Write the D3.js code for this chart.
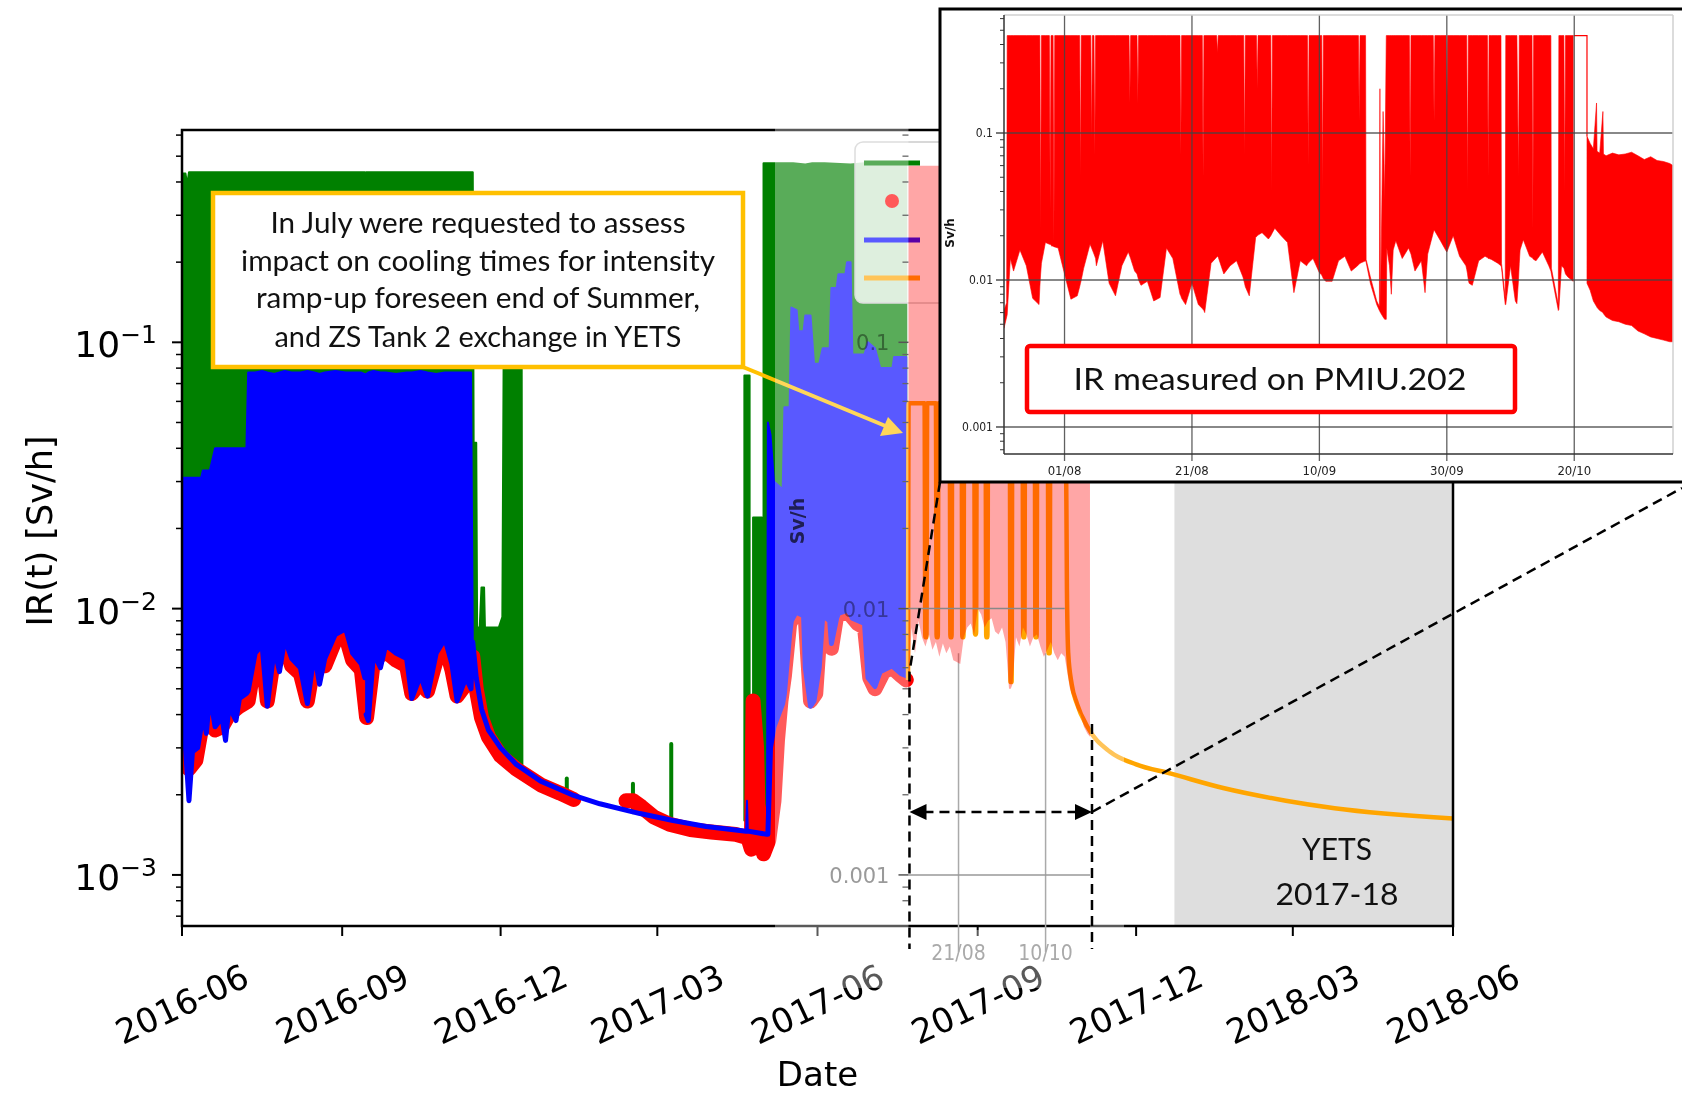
<!DOCTYPE html>
<html>
<head>
<meta charset="utf-8">
<script src="https://cdn.jsdelivr.net/npm/d3@7"></script>
<style>
  html, body { margin: 0; padding: 0; background: #fff; }
  svg { display: block; }
  .calibri { font-family: Lato, "Open Sans", sans-serif; }
  .mpl { font-family: "DejaVu Sans", sans-serif; }
  .cond { font-family: "DejaVu Sans Condensed", "DejaVu Sans", sans-serif; }
</style>
</head>
<body>
<svg id="chart" width="1682" height="1100"></svg>
<script>
// ---------------------------------------------------------------------------
// Data (dates as ISO strings, dose rates in Sv/h)
// ---------------------------------------------------------------------------

// Upper dose-rate envelope (green): [date, low, high]
const greenBand = [
  ["2016-06-01", 0.0034, 0.43], ["2016-06-03", 0.0033, 0.43], ["2016-06-04", 0.0033, 0.39],
  ["2016-06-05", 0.0032, 0.435], ["2016-06-15", 0.0040, 0.435], ["2016-06-22", 0.0040, 0.435],
  ["2016-06-30", 0.0044, 0.435], ["2016-07-08", 0.0050, 0.435], ["2016-07-14", 0.0072, 0.435],
  ["2016-07-19", 0.0068, 0.435], ["2016-07-26", 0.0076, 0.435], ["2016-08-02", 0.0072, 0.435],
  ["2016-08-09", 0.0066, 0.435], ["2016-08-17", 0.0070, 0.435], ["2016-08-24", 0.0072, 0.435],
  ["2016-08-31", 0.0085, 0.435], ["2016-09-06", 0.0074, 0.435], ["2016-09-14", 0.0066, 0.435],
  null,
  ["2016-09-14T18:00", 0.0066, 0.435], ["2016-09-22", 0.0074, 0.435], ["2016-09-30", 0.0072, 0.435],
  ["2016-10-08", 0.0068, 0.435], ["2016-10-16", 0.0062, 0.435], ["2016-10-24", 0.0072, 0.435],
  ["2016-11-01", 0.0078, 0.435], ["2016-11-09", 0.0062, 0.435], ["2016-11-15", 0.0066, 0.435],
  ["2016-11-15T12:00", 0.0066, 0.042], ["2016-11-17", 0.0055, 0.042], ["2016-11-17T12:00", 0.0054, 0.0085],
  ["2016-11-19", 0.0048, 0.0085], ["2016-11-20", 0.0046, 0.012], ["2016-11-21T12:00", 0.0043, 0.012],
  ["2016-11-22", 0.0042, 0.0085], ["2016-11-30", 0.0031, 0.0085], ["2016-12-02", 0.0029, 0.0093],
  ["2016-12-03", 0.0029, 0.2], ["2016-12-13", 0.0026, 0.2], ["2016-12-13T12:00", 0.0026, 0.0026],
  null,
  ["2017-04-20", 0.0016, 0.075], ["2017-04-23", 0.0016, 0.075],
  null,
  ["2017-04-25", 0.0015, 0.022], ["2017-04-30", 0.0014, 0.022],
  null,
  ["2017-05-01", 0.0014, 0.47], ["2017-05-10", 0.0030, 0.47], ["2017-05-14", 0.0065, 0.47],
  ["2017-05-18", 0.0098, 0.47], ["2017-05-25", 0.0096, 0.465], ["2017-05-29", 0.0048, 0.47],
  ["2017-06-02", 0.0052, 0.47], ["2017-06-05", 0.0098, 0.47], ["2017-06-20", 0.0098, 0.465],
  ["2017-06-28", 0.0094, 0.47], ["2017-07-01", 0.0056, 0.47], ["2017-07-22", 0.0060, 0.47]
];

// Isolated green readings during the shutdown: [date, low, high]
const greenSpikes = [
  ["2017-01-08", 0.00205, 0.0023],
  ["2017-02-15", 0.00172, 0.0022],
  ["2017-03-09", 0.00158, 0.0031]
];

// Lower dose-rate envelope (red markers): [date, value]
const redDots = [
  ["2016-06-02", 0.0031], ["2016-06-05", 0.0025], ["2016-06-09", 0.0027], ["2016-06-13", 0.0038],
  ["2016-06-17", 0.0045], ["2016-06-20", 0.0035], ["2016-06-24", 0.0036], ["2016-06-28", 0.0040],
  ["2016-07-04", 0.0043], ["2016-07-09", 0.0045], ["2016-07-13", 0.0064], ["2016-07-17", 0.0069],
  ["2016-07-20", 0.0045], ["2016-07-24", 0.0067], ["2016-07-30", 0.0073], ["2016-08-03", 0.0061],
  ["2016-08-08", 0.0057], ["2016-08-12", 0.0045], ["2016-08-16", 0.0064], ["2016-08-22", 0.0061],
  ["2016-08-28", 0.0076], ["2016-09-03", 0.0079], ["2016-09-07", 0.0064], ["2016-09-12", 0.0059],
  ["2016-09-15", 0.0039], ["2016-09-19", 0.0064], ["2016-09-26", 0.0069], ["2016-10-02", 0.0064],
  ["2016-10-08", 0.0061], ["2016-10-11", 0.0048], ["2016-10-16", 0.0053], ["2016-10-20", 0.0049],
  ["2016-10-25", 0.0064], ["2016-10-30", 0.0073], ["2016-11-03", 0.0059], ["2016-11-06", 0.0047],
  ["2016-11-11", 0.0052], ["2016-11-15", 0.0066], ["2016-11-17", 0.0050], ["2016-11-20", 0.0039],
  ["2016-11-24", 0.0033], ["2016-12-01", 0.0028], ["2016-12-10", 0.0025], ["2016-12-24", 0.00218],
  ["2017-01-04", 0.00203], ["2017-01-12", 0.00192],
  null,
  ["2017-02-11", 0.0019], ["2017-02-15", 0.0019], ["2017-02-20", 0.0018], ["2017-02-27", 0.00165],
  ["2017-03-08", 0.00155], ["2017-03-20", 0.00148], ["2017-04-01", 0.00145], ["2017-04-15", 0.00142],
  ["2017-04-22", 0.00138], ["2017-04-24", 0.00125], ["2017-04-25", 0.0045], ["2017-04-27", 0.0030],
  ["2017-04-28", 0.0016], ["2017-05-01", 0.0012], ["2017-05-04", 0.00135], ["2017-05-07", 0.0019],
  ["2017-05-09", 0.0032], ["2017-05-11", 0.0045], ["2017-05-13", 0.0056], ["2017-05-16", 0.0088],
  ["2017-05-20", 0.0097], ["2017-05-25", 0.0092], ["2017-05-28", 0.0045], ["2017-05-31", 0.0048],
  ["2017-06-03", 0.0094], ["2017-06-07", 0.0092], ["2017-06-09", 0.0071], ["2017-06-12", 0.0094],
  ["2017-06-18", 0.0098], ["2017-06-24", 0.0088], ["2017-06-28", 0.0085], ["2017-07-01", 0.0055],
  ["2017-07-04", 0.0050], ["2017-07-09", 0.0058], ["2017-07-14", 0.0060], ["2017-07-19", 0.0056],
  ["2017-07-22", 0.0054]
];

// Model dose rate (blue): [date, low, high]
const blueBand = [
  ["2016-06-01", 0.0032, 0.031], ["2016-06-03", 0.0030, 0.031], ["2016-06-05", 0.0019, 0.031],
  ["2016-06-07", 0.0029, 0.031], ["2016-06-10", 0.0030, 0.031], ["2016-06-12", 0.0036, 0.031],
  ["2016-06-13", 0.0041, 0.033], ["2016-06-15", 0.0034, 0.033], ["2016-06-17", 0.0048, 0.033],
  ["2016-06-20", 0.0036, 0.040], ["2016-06-24", 0.0039, 0.040], ["2016-06-26", 0.0032, 0.040],
  ["2016-06-28", 0.0043, 0.040], ["2016-07-02", 0.0038, 0.040], ["2016-07-04", 0.0046, 0.040],
  ["2016-07-08", 0.0048, 0.040], ["2016-07-09", 0.0049, 0.077], ["2016-07-13", 0.0068, 0.077],
  ["2016-07-17", 0.0073, 0.078], ["2016-07-20", 0.0043, 0.077], ["2016-07-24", 0.0071, 0.076],
  ["2016-07-27", 0.0058, 0.077], ["2016-07-30", 0.0077, 0.078], ["2016-08-03", 0.0065, 0.077],
  ["2016-08-08", 0.0060, 0.077], ["2016-08-12", 0.0044, 0.078], ["2016-08-16", 0.0068, 0.077],
  ["2016-08-19", 0.0052, 0.076], ["2016-08-22", 0.0065, 0.077], ["2016-08-28", 0.0080, 0.078],
  ["2016-09-03", 0.0084, 0.077], ["2016-09-07", 0.0068, 0.077], ["2016-09-12", 0.0062, 0.077],
  ["2016-09-14", 0.0055, 0.076],
  null,
  ["2016-09-14T18:00", 0.0040, 0.076], ["2016-09-16", 0.0038, 0.077], ["2016-09-19", 0.0068, 0.078],
  ["2016-09-23", 0.0060, 0.077], ["2016-09-26", 0.0073, 0.077], ["2016-10-02", 0.0068, 0.076],
  ["2016-10-08", 0.0065, 0.077], ["2016-10-11", 0.0046, 0.077], ["2016-10-16", 0.0056, 0.078],
  ["2016-10-20", 0.0047, 0.077], ["2016-10-25", 0.0068, 0.076], ["2016-10-30", 0.0077, 0.077],
  ["2016-11-03", 0.0062, 0.077], ["2016-11-06", 0.0045, 0.077], ["2016-11-11", 0.0055, 0.077],
  ["2016-11-14", 0.0050, 0.077], ["2016-11-15", 0.0075, 0.0075],
  ["2016-11-17", 0.0055, 0.0055], ["2016-11-20", 0.0042, 0.0042], ["2016-11-24", 0.0035, 0.0035],
  ["2016-12-01", 0.0030, 0.0030], ["2016-12-10", 0.0026, 0.0026], ["2016-12-24", 0.00225, 0.00225],
  ["2017-01-11", 0.0020, 0.0020], ["2017-01-27", 0.00185, 0.00185], ["2017-02-19", 0.0017, 0.0017],
  ["2017-03-10", 0.0016, 0.0016], ["2017-03-29", 0.00152, 0.00152], ["2017-04-21", 0.00146, 0.00146],
  ["2017-04-21T12:00", 0.00146, 0.0019], ["2017-04-22", 0.00146, 0.00146], ["2017-05-03", 0.00142, 0.00142],
  ["2017-05-03T12:00", 0.00142, 0.05], ["2017-05-05", 0.0030, 0.045], ["2017-05-07", 0.0036, 0.030],
  ["2017-05-12", 0.0044, 0.028], ["2017-05-13", 0.0048, 0.057], ["2017-05-16", 0.0080, 0.057],
  ["2017-05-17", 0.0090, 0.135], ["2017-05-20", 0.0098, 0.132], ["2017-05-21", 0.0096, 0.11],
  ["2017-05-24", 0.0094, 0.11], ["2017-05-25", 0.0060, 0.126], ["2017-05-28", 0.0043, 0.126],
  ["2017-05-30", 0.0045, 0.083], ["2017-06-02", 0.0060, 0.083], ["2017-06-04", 0.0094, 0.095],
  ["2017-06-08", 0.0090, 0.095], ["2017-06-09", 0.0074, 0.16], ["2017-06-12", 0.0092, 0.16],
  ["2017-06-13", 0.0096, 0.18], ["2017-06-17", 0.0098, 0.18], ["2017-06-18", 0.0100, 0.20],
  ["2017-06-20", 0.0095, 0.20], ["2017-06-21", 0.0092, 0.09], ["2017-06-28", 0.0088, 0.09],
  ["2017-06-30", 0.0055, 0.10], ["2017-07-04", 0.0051, 0.095], ["2017-07-07", 0.0058, 0.08],
  ["2017-07-14", 0.0061, 0.08], ["2017-07-15", 0.0060, 0.088], ["2017-07-19", 0.0057, 0.088],
  ["2017-07-22", 0.0056, 0.088]
];

// Forecast with the summer intensity ramp-up (orange): [date, value]
const forecast = [
  ["2017-07-23", 0.0054], ["2017-07-23T08:00", 0.059], ["2017-08-01T12:00", 0.059],
  ["2017-08-01T22:00", 0.0078], ["2017-08-02T14:00", 0.0078], ["2017-08-03", 0.059],
  ["2017-08-08", 0.059], ["2017-08-08T10:00", 0.0078], ["2017-08-09T02:00", 0.0078], ["2017-08-09T12:00", 0.059],
  ["2017-08-15T22:00", 0.059], ["2017-08-16T08:00", 0.0078], ["2017-08-17", 0.0078], ["2017-08-17T10:00", 0.059],
  ["2017-08-22T18:00", 0.059], ["2017-08-23T04:00", 0.0078], ["2017-08-23T20:00", 0.0078], ["2017-08-24T06:00", 0.059],
  ["2017-08-30", 0.059], ["2017-08-30T10:00", 0.0080], ["2017-08-31T02:00", 0.0080], ["2017-08-31T12:00", 0.059],
  ["2017-09-05T12:00", 0.059], ["2017-09-05T22:00", 0.0078], ["2017-09-06T14:00", 0.0078], ["2017-09-07", 0.059],
  ["2017-09-19T10:00", 0.059], ["2017-09-19T20:00", 0.0053], ["2017-09-20T12:00", 0.0053], ["2017-09-20T22:00", 0.059],
  ["2017-09-26T18:00", 0.059], ["2017-09-27T04:00", 0.0078], ["2017-09-27T20:00", 0.0078], ["2017-09-28T06:00", 0.059],
  ["2017-10-03T18:00", 0.059], ["2017-10-04T04:00", 0.0078], ["2017-10-04T20:00", 0.0078], ["2017-10-05T06:00", 0.059],
  ["2017-10-11T06:00", 0.059], ["2017-10-11T16:00", 0.0068], ["2017-10-12T08:00", 0.0068], ["2017-10-12T18:00", 0.059],
  ["2017-10-21T12:00", 0.059], ["2017-10-22T06:00", 0.012], ["2017-10-23", 0.0068], ["2017-10-25", 0.0052],
  ["2017-10-28", 0.0044], ["2017-11-03", 0.0036], ["2017-11-16", 0.0029], ["2017-12-01", 0.0026],
  ["2017-12-21", 0.0024], ["2018-01-20", 0.00212], ["2018-02-25", 0.0019], ["2018-03-25", 0.00178],
  ["2018-06-01", 0.00163]
];

// IR measured on PMIU.202, full resolution: [date, low, high]
const pmiu = [
  ["2017-07-22T12:00", 0.0047, 0.0062], ["2017-07-22T22:00", 0.0056, 0.0070], ["2017-07-23", 0.0058, 0.46],
  ["2017-07-23T12:00", 0.0140, 0.46], ["2017-07-24", 0.0115, 0.46], ["2017-07-25", 0.0160, 0.46],
  ["2017-07-26", 0.0125, 0.46], ["2017-07-27", 0.0075, 0.46], ["2017-07-28", 0.0068, 0.46],
  ["2017-07-28T03:00", 0.0090, 0.46], ["2017-07-28T06:00", 0.0110, 0.022], ["2017-07-28T09:00", 0.0130, 0.46],
  ["2017-07-29", 0.0180, 0.46],
  ["2017-07-29T15:00", 0.0175, 0.46], ["2017-07-29T18:00", 0.0175, 0.030], ["2017-07-29T21:00", 0.0172, 0.46],
  ["2017-07-30", 0.0170, 0.46],
  ["2017-07-30T05:00", 0.0170, 0.46], ["2017-07-30T08:00", 0.0168, 0.018], ["2017-07-30T11:00", 0.0168, 0.46],
  ["2017-07-31", 0.0165, 0.46], ["2017-08-01", 0.0110, 0.46], ["2017-08-02", 0.0074, 0.46],
  ["2017-08-03", 0.0078, 0.46],
  ["2017-08-03T09:00", 0.0090, 0.46], ["2017-08-03T12:00", 0.0095, 0.05], ["2017-08-03T15:00", 0.0100, 0.46],
  ["2017-08-04", 0.0120, 0.46], ["2017-08-05", 0.0175, 0.46],
  ["2017-08-05T03:00", 0.0170, 0.46], ["2017-08-05T06:00", 0.0165, 0.09], ["2017-08-05T09:00", 0.0160, 0.46],
  ["2017-08-05T15:00", 0.0150, 0.46], ["2017-08-05T18:00", 0.0145, 0.07], ["2017-08-05T21:00", 0.0140, 0.46],
  ["2017-08-06", 0.0125, 0.46], ["2017-08-07", 0.0185, 0.46], ["2017-08-08", 0.0095, 0.46],
  ["2017-08-09", 0.0078, 0.46], ["2017-08-10", 0.0125, 0.46], ["2017-08-11", 0.0155, 0.46],
  ["2017-08-11T03:00", 0.0150, 0.46], ["2017-08-11T06:00", 0.0145, 0.16], ["2017-08-11T09:00", 0.0140, 0.46],
  ["2017-08-12", 0.0115, 0.46],
  ["2017-08-12T09:00", 0.0110, 0.46], ["2017-08-12T12:00", 0.0105, 0.16], ["2017-08-12T15:00", 0.0100, 0.46],
  ["2017-08-13", 0.0092, 0.46], ["2017-08-14", 0.0098, 0.46], ["2017-08-15", 0.0072, 0.46],
  ["2017-08-16", 0.0076, 0.46], ["2017-08-17", 0.0165, 0.46], ["2017-08-18", 0.0140, 0.46],
  ["2017-08-19", 0.0085, 0.46],
  ["2017-08-19T03:00", 0.0080, 0.46], ["2017-08-19T06:00", 0.0078, 0.07], ["2017-08-19T09:00", 0.0075, 0.46],
  ["2017-08-20", 0.0068, 0.46], ["2017-08-21", 0.0095, 0.46], ["2017-08-22", 0.0068, 0.46],
  ["2017-08-22T15:00", 0.0064, 0.46], ["2017-08-22T18:00", 0.0063, 0.05], ["2017-08-22T21:00", 0.0062, 0.46],
  ["2017-08-23", 0.0060, 0.46], ["2017-08-24", 0.0130, 0.46],
  ["2017-08-24T21:00", 0.0143, 0.46], ["2017-08-25", 0.0145, 0.35], ["2017-08-25T03:00", 0.0143, 0.46],
  ["2017-08-26", 0.0110, 0.46], ["2017-08-27", 0.0125, 0.46], ["2017-08-28", 0.0135, 0.46],
  ["2017-08-29", 0.0105, 0.46],
  ["2017-08-29T03:00", 0.0100, 0.46], ["2017-08-29T06:00", 0.0095, 0.07], ["2017-08-29T09:00", 0.0090, 0.46],
  ["2017-08-30", 0.0078, 0.46], ["2017-08-31", 0.0195, 0.46],
  ["2017-08-31T03:00", 0.0197, 0.46], ["2017-08-31T06:00", 0.0200, 0.20], ["2017-08-31T09:00", 0.0202, 0.46],
  ["2017-09-01", 0.0210, 0.46], ["2017-09-02", 0.0190, 0.46],
  ["2017-09-02T09:00", 0.0200, 0.46], ["2017-09-02T12:00", 0.0205, 0.04], ["2017-09-02T15:00", 0.0210, 0.46],
  ["2017-09-03", 0.0225, 0.46], ["2017-09-04", 0.0200, 0.46], ["2017-09-05", 0.0180, 0.46],
  ["2017-09-06", 0.0082, 0.46], ["2017-09-07", 0.0135, 0.46], ["2017-09-08", 0.0125, 0.46],
  ["2017-09-08T03:00", 0.0128, 0.46], ["2017-09-08T06:00", 0.0130, 0.06], ["2017-09-08T09:00", 0.0132, 0.46],
  ["2017-09-09", 0.0140, 0.46], ["2017-09-10", 0.0112, 0.46],
  ["2017-09-10T09:00", 0.0108, 0.46], ["2017-09-10T12:00", 0.0105, 0.04], ["2017-09-10T15:00", 0.0102, 0.46],
  ["2017-09-11", 0.0098, 0.46], ["2017-09-12", 0.0098, 0.46], ["2017-09-13", 0.0135, 0.46],
  ["2017-09-14", 0.0145, 0.46], ["2017-09-15", 0.0115, 0.46], ["2017-09-16", 0.0125, 0.46],
  ["2017-09-16T03:00", 0.0127, 0.46], ["2017-09-16T06:00", 0.0128, 0.12], ["2017-09-16T09:00", 0.0130, 0.46],
  ["2017-09-17T06:00", 0.0135, 0.46],
  ["2017-09-17T08:00", 0.0132, 0.0138], ["2017-09-18", 0.0095, 0.0105], ["2017-09-19", 0.0068, 0.0072],
  ["2017-09-19T10:00", 0.0062, 0.0066], ["2017-09-19T12:00", 0.0061, 0.20], ["2017-09-19T14:00", 0.0060, 0.0064],
  ["2017-09-20", 0.0056, 0.14], ["2017-09-20T06:00", 0.0054, 0.035], ["2017-09-20T12:00", 0.0054, 0.46],
  ["2017-09-20T14:00", 0.0165, 0.46], ["2017-09-21", 0.0125, 0.46], ["2017-09-21T07:00", 0.0080, 0.46],
  ["2017-09-21T14:00", 0.0160, 0.46], ["2017-09-22", 0.0185, 0.46], ["2017-09-23", 0.0140, 0.46],
  ["2017-09-24", 0.0165, 0.46],
  ["2017-09-24T03:00", 0.0160, 0.46], ["2017-09-24T06:00", 0.0155, 0.05], ["2017-09-24T09:00", 0.0150, 0.46],
  ["2017-09-25", 0.0115, 0.46], ["2017-09-26", 0.0135, 0.46], ["2017-09-26T14:00", 0.0082, 0.46],
  ["2017-09-27", 0.0150, 0.46],
  ["2017-09-27T21:00", 0.0210, 0.46], ["2017-09-28", 0.0220, 0.12], ["2017-09-28T03:00", 0.0215, 0.46],
  ["2017-09-29", 0.0185, 0.46],
  ["2017-09-29T21:00", 0.0158, 0.46], ["2017-09-30", 0.0155, 0.13], ["2017-09-30T03:00", 0.0160, 0.46],
  ["2017-10-01", 0.0200, 0.46], ["2017-10-02", 0.0145, 0.46], ["2017-10-03", 0.0125, 0.46],
  ["2017-10-03T03:00", 0.0118, 0.46], ["2017-10-03T06:00", 0.0110, 0.04], ["2017-10-03T09:00", 0.0100, 0.46],
  ["2017-10-03T12:00", 0.0095, 0.46], ["2017-10-04", 0.0092, 0.46], ["2017-10-05", 0.0135, 0.46],
  ["2017-10-06", 0.0145, 0.46],
  ["2017-10-06T09:00", 0.0142, 0.46], ["2017-10-06T12:00", 0.0140, 0.05], ["2017-10-06T15:00", 0.0140, 0.46],
  ["2017-10-07", 0.0138, 0.46], ["2017-10-08", 0.0130, 0.46], ["2017-10-08T12:00", 0.0125, 0.46],
  ["2017-10-08T14:00", 0.0122, 0.013], ["2017-10-09T04:00", 0.0068, 0.0075], ["2017-10-09T06:00", 0.0068, 0.46],
  ["2017-10-10", 0.0125, 0.46], ["2017-10-10T18:00", 0.0072, 0.46], ["2017-10-11", 0.0069, 0.46],
  ["2017-10-11T06:00", 0.0100, 0.05], ["2017-10-11T09:00", 0.0130, 0.46],
  ["2017-10-11T12:00", 0.0160, 0.46], ["2017-10-12", 0.0188, 0.46], ["2017-10-13", 0.0145, 0.46],
  ["2017-10-13T09:00", 0.0142, 0.46], ["2017-10-13T12:00", 0.0140, 0.022], ["2017-10-13T15:00", 0.0138, 0.46],
  ["2017-10-14", 0.0135, 0.46], ["2017-10-15", 0.0155, 0.46], ["2017-10-16", 0.0125, 0.46],
  ["2017-10-16T08:00", 0.0115, 0.46], ["2017-10-16T10:00", 0.0110, 0.012], ["2017-10-17T12:00", 0.0062, 0.0068],
  ["2017-10-17T14:00", 0.0063, 0.46], ["2017-10-18", 0.0125, 0.46],
  ["2017-10-18T09:00", 0.0120, 0.46], ["2017-10-18T12:00", 0.0115, 0.04], ["2017-10-18T15:00", 0.0110, 0.46],
  ["2017-10-19", 0.0105, 0.46], ["2017-10-19T20:00", 0.0098, 0.46],
  null,
  ["2017-10-22", 0.0095, 0.095], ["2017-10-22T12:00", 0.0085, 0.085], ["2017-10-23", 0.0072, 0.078],
  ["2017-10-23T12:00", 0.0066, 0.16], ["2017-10-23T14:00", 0.0065, 0.075], ["2017-10-24", 0.0062, 0.073],
  ["2017-10-24T12:00", 0.0060, 0.14], ["2017-10-24T14:00", 0.0059, 0.072], ["2017-10-25", 0.0056, 0.070],
  ["2017-10-26", 0.0053, 0.073], ["2017-10-27", 0.0052, 0.071], ["2017-10-28", 0.0050, 0.072],
  ["2017-10-29", 0.0049, 0.074], ["2017-10-30", 0.0045, 0.070], ["2017-10-31", 0.0043, 0.066],
  ["2017-11-01", 0.0041, 0.069], ["2017-11-02", 0.0040, 0.065], ["2017-11-03", 0.0039, 0.064],
  ["2017-11-04", 0.0038, 0.062], ["2017-11-04T12:00", 0.0038, 0.060]
];
// Stretch of the PMIU trace without samples (drawn as a plain connector)
const pmiuLink = [["2017-10-19T22:00", 0.46], ["2017-10-22", 0.46], ["2017-10-22", 0.095]];

// Same PMIU.202 trace as two-day extremes, overlaid on the main time axis: [date, low, high]
const pmiuCoarse = [
  ["2017-07-23T06:00", 0.0047, 0.46], ["2017-07-25", 0.0085, 0.46], ["2017-07-27", 0.0068, 0.46],
  ["2017-07-29", 0.0090, 0.46], ["2017-07-31", 0.0078, 0.46], ["2017-08-02", 0.0072, 0.46],
  ["2017-08-04", 0.0080, 0.46], ["2017-08-06", 0.0070, 0.46], ["2017-08-08", 0.0075, 0.46],
  ["2017-08-10", 0.0066, 0.46], ["2017-08-12", 0.0074, 0.46], ["2017-08-14", 0.0068, 0.46],
  ["2017-08-16", 0.0072, 0.46], ["2017-08-18", 0.0064, 0.46], ["2017-08-20", 0.0063, 0.46],
  ["2017-08-22", 0.0062, 0.46], ["2017-08-24", 0.0078, 0.46], ["2017-08-26", 0.0085, 0.46],
  ["2017-08-28", 0.0088, 0.46], ["2017-08-30", 0.0080, 0.46], ["2017-09-01", 0.0100, 0.46],
  ["2017-09-03", 0.0095, 0.46], ["2017-09-05", 0.0085, 0.46], ["2017-09-07", 0.0090, 0.46],
  ["2017-09-09", 0.0092, 0.46], ["2017-09-11", 0.0082, 0.46], ["2017-09-13", 0.0080, 0.46],
  ["2017-09-15", 0.0085, 0.46], ["2017-09-17", 0.0075, 0.46], ["2017-09-18", 0.0062, 0.20],
  ["2017-09-19", 0.0050, 0.20], ["2017-09-20", 0.0050, 0.46], ["2017-09-21", 0.0052, 0.46],
  ["2017-09-23", 0.0078, 0.46], ["2017-09-25", 0.0072, 0.46], ["2017-09-27", 0.0085, 0.46],
  ["2017-09-29", 0.0080, 0.46], ["2017-10-01", 0.0072, 0.46], ["2017-10-03", 0.0078, 0.46],
  ["2017-10-05", 0.0080, 0.46], ["2017-10-07", 0.0072, 0.46], ["2017-10-09", 0.0066, 0.46],
  ["2017-10-11", 0.0070, 0.46], ["2017-10-13", 0.0075, 0.46], ["2017-10-15", 0.0068, 0.46],
  ["2017-10-17", 0.0064, 0.46], ["2017-10-19", 0.0068, 0.46], ["2017-10-21", 0.0066, 0.46],
  ["2017-10-22", 0.0060, 0.09], ["2017-10-24", 0.0050, 0.08], ["2017-10-26", 0.0046, 0.075],
  ["2017-10-28", 0.0042, 0.072], ["2017-10-30", 0.0040, 0.070], ["2017-11-01", 0.0036, 0.068],
  ["2017-11-03", 0.0034, 0.064], ["2017-11-04T12:00", 0.0033, 0.060]
];

// Axis ticks and labels
const xTickLabels = ["2016-06", "2016-09", "2016-12", "2017-03", "2017-06", "2017-09", "2017-12", "2018-03", "2018-06"];
const yTickValues = [0.001, 0.01, 0.1];
const yTickExps = ["\u22123", "\u22122", "\u22121"];
const pasteTickLabels = ["0.001", "0.01", "0.1"];
const pasteDateTicks = ["2017-08-21", "2017-10-10"];
const pasteDateLabels = ["21/08", "10/10"];
const insetDateTicks = ["2017-08-01", "2017-08-21", "2017-09-10", "2017-09-30", "2017-10-20"];
const insetDateLabels = ["01/08", "21/08", "10/09", "30/09", "20/10"];

// Year-end technical stop
const yetsSpan = ["2017-12-23", "2018-06-01"];
const yetsLabel = ["YETS", "2017-18"];

const calloutLines = [
  "In July were requested to assess",
  "impact on cooling times for intensity",
  "ramp-up foreseen end of Summer,",
  "and ZS Tank 2 exchange in YETS"
];
const insetTitle = "IR measured on PMIU.202";

// ---------------------------------------------------------------------------
// Scales and helpers
// ---------------------------------------------------------------------------
const parseStamp = d3.utcParse("%Y-%m-%dT%H:%M");
const T = s => parseStamp(s.length === 10 ? s + "T00:00" : s);

const P = { l: 182, r: 1453, t: 130, b: 926 };
const x = d3.scaleUtc().domain([T("2016-06-01"), T("2018-06-01")]).range([P.l, P.r]);
const y = d3.scaleLog().domain([6.43e-4, 0.627]).range([P.b, P.t]);

const IP = { l: 1004, r: 1673, t: 15, b: 454 };
const xi = d3.scaleUtc().domain([T("2017-07-22T12:00"), T("2017-11-04T12:00")]).range([IP.l, IP.r]);
const yi = d3.scaleLog().domain([6.55e-4, 0.635]).range([IP.b, IP.t]);

const bandRows = a => a.map(r => r ? { t: T(r[0]), lo: r[1], hi: r[2] } : null);
const lineRows = a => a.map(r => r ? { t: T(r[0]), v: r[1] } : null);
const bandArea = (sx, sy) => d3.area().defined(d => d).x(d => sx(d.t)).y0(d => sy(d.lo)).y1(d => sy(d.hi));
const valueLine = (sx, sy) => d3.line().defined(d => d).x(d => sx(d.t)).y(d => sy(d.v));
const lowLine = (sx, sy) => d3.line().defined(d => d).x(d => sx(d.t)).y(d => sy(d.lo));

// log-axis minor tick values inside a domain
function minorTicks(domain) {
  const out = [];
  for (let e = -4; e <= 0; e++) {
    for (let k = 2; k <= 9; k++) {
      const v = k * Math.pow(10, e);
      if (v > domain[0] && v < domain[1]) out.push(v);
    }
  }
  return out;
}

const svg = d3.select("#chart");
const defs = svg.append("defs");
defs.append("clipPath").attr("id", "mainClip")
  .append("rect").attr("x", P.l).attr("y", P.t).attr("width", P.r - P.l).attr("height", P.b - P.t);
defs.append("clipPath").attr("id", "insetClip")
  .append("rect").attr("x", IP.l).attr("y", IP.t).attr("width", IP.r - IP.l).attr("height", IP.b - IP.t);

// ---------------------------------------------------------------------------
// Main axes: data
// ---------------------------------------------------------------------------
const main = svg.append("g").attr("clip-path", "url(#mainClip)");

main.append("rect")
  .attr("x", x(T(yetsSpan[0]))).attr("y", P.t)
  .attr("width", x(T(yetsSpan[1])) - x(T(yetsSpan[0]))).attr("height", P.b - P.t)
  .attr("fill", "#dedede");

main.append("path").datum(bandRows(greenBand))
  .attr("d", bandArea(x, y))
  .attr("fill", "#008000").attr("stroke", "#008000").attr("stroke-width", 2).attr("stroke-linejoin", "round");

main.selectAll("line.gspike").data(bandRows(greenSpikes)).join("line")
  .attr("x1", d => x(d.t)).attr("x2", d => x(d.t))
  .attr("y1", d => y(d.lo)).attr("y2", d => y(d.hi))
  .attr("stroke", "#008000").attr("stroke-width", 4).attr("stroke-linecap", "round");

main.append("path").datum(lineRows(redDots))
  .attr("d", valueLine(x, y))
  .attr("fill", "none").attr("stroke", "#ff0000").attr("stroke-width", 15)
  .attr("stroke-linecap", "round").attr("stroke-linejoin", "round");

const blueRows = bandRows(blueBand);
main.append("path").datum(blueRows)
  .attr("d", bandArea(x, y))
  .attr("fill", "#0000ff").attr("stroke", "#0000ff").attr("stroke-width", 2).attr("stroke-linejoin", "round");
main.append("path").datum(blueRows)
  .attr("d", lowLine(x, y))
  .attr("fill", "none").attr("stroke", "#0000ff").attr("stroke-width", 5)
  .attr("stroke-linecap", "round").attr("stroke-linejoin", "round");

main.append("path").datum(lineRows(forecast))
  .attr("d", valueLine(x, y).curve(d3.curveMonotoneX))
  .attr("fill", "none").attr("stroke", "#ffa500").attr("stroke-width", 4.5)
  .attr("stroke-linejoin", "round");

// ---------------------------------------------------------------------------
// Main axes: frame, ticks, labels
// ---------------------------------------------------------------------------
const axes = svg.append("g");
axes.append("rect").attr("x", P.l).attr("y", P.t).attr("width", P.r - P.l).attr("height", P.b - P.t)
  .attr("fill", "none").attr("stroke", "#000").attr("stroke-width", 2.5);

axes.selectAll("line.ymaj").data(yTickValues).join("line")
  .attr("x1", P.l - 10).attr("x2", P.l).attr("y1", d => y(d)).attr("y2", d => y(d))
  .attr("stroke", "#000").attr("stroke-width", 2);
axes.selectAll("line.ymin").data(minorTicks(y.domain())).join("line")
  .attr("x1", P.l - 6).attr("x2", P.l).attr("y1", d => y(d)).attr("y2", d => y(d))
  .attr("stroke", "#000").attr("stroke-width", 1.5);

const yl = axes.selectAll("text.ylab").data(yTickValues).join("text")
  .attr("class", "mpl").attr("x", 157).attr("y", d => y(d) + 15)
  .attr("text-anchor", "end").attr("font-size", 36).attr("fill", "#000")
  .text("10");
yl.append("tspan").attr("dy", -14).attr("font-size", 25).text((d, i) => yTickExps[i]);

axes.selectAll("line.xt").data(xTickLabels).join("line")
  .attr("x1", d => x(T(d + "-01"))).attr("x2", d => x(T(d + "-01")))
  .attr("y1", P.b).attr("y2", P.b + 10)
  .attr("stroke", "#000").attr("stroke-width", 2);
axes.selectAll("text.xt").data(xTickLabels).join("text")
  .attr("class", "mpl")
  .attr("transform", d => `translate(${x(T(d + "-01"))},1004) rotate(-25)`)
  .attr("text-anchor", "middle").attr("dominant-baseline", "central")
  .attr("font-size", 34).attr("fill", "#000").text(d => d);

axes.append("text").attr("class", "mpl").attr("x", (P.l + P.r) / 2).attr("y", 1086)
  .attr("text-anchor", "middle").attr("font-size", 34).text("Date");
axes.append("text").attr("class", "mpl").attr("transform", "translate(52,531) rotate(-90)")
  .attr("text-anchor", "middle").attr("font-size", 35).text("IR(t) [Sv/h]");

// legend box (entries sit under the inset)
const leg = svg.append("g");
leg.append("rect").attr("x", 855).attr("y", 142).attr("width", 200).attr("height", 161).attr("rx", 8)
  .attr("fill", "#fff").attr("fill-opacity", 0.8).attr("stroke", "#cccccc").attr("stroke-width", 1.5);
const legendKeys = [
  { kind: "line", color: "#008000", yy: 163 },
  { kind: "dot", color: "#ff0000", yy: 201 },
  { kind: "line", color: "#0000ff", yy: 240 },
  { kind: "line", color: "#ffa500", yy: 278 }
];
legendKeys.forEach(k => {
  if (k.kind === "line") {
    leg.append("line").attr("x1", 864).attr("x2", 920).attr("y1", k.yy).attr("y2", k.yy)
      .attr("stroke", k.color).attr("stroke-width", 5);
  } else {
    leg.append("circle").attr("cx", 892).attr("cy", k.yy).attr("r", 7).attr("fill", k.color);
  }
});

// YETS label
svg.append("text").attr("class", "calibri").attr("x", 1337).attr("y", 860)
  .attr("text-anchor", "middle").attr("font-size", 31).attr("fill", "#111")
  .attr("textLength", 70).attr("lengthAdjust", "spacingAndGlyphs").text(yetsLabel[0]);
svg.append("text").attr("class", "calibri").attr("x", 1337).attr("y", 905)
  .attr("text-anchor", "middle").attr("font-size", 31).attr("fill", "#111")
  .attr("textLength", 123).attr("lengthAdjust", "spacingAndGlyphs").text(yetsLabel[1]);

// ---------------------------------------------------------------------------
// Callout
// ---------------------------------------------------------------------------
const call = svg.append("g");
call.append("line").attr("x1", 743).attr("y1", 367).attr("x2", 888).attr("y2", 427)
  .attr("stroke", "#ffc000").attr("stroke-width", 4);
call.append("polygon").attr("points", "903,433 880,436 888,417").attr("fill", "#ffc000");
call.append("rect").attr("x", 213).attr("y", 193).attr("width", 530).attr("height", 174)
  .attr("fill", "#fff").attr("stroke", "#ffc000").attr("stroke-width", 4.5);
const callW = [415, 474, 444, 407];
const callY = [233, 271, 308, 347];
calloutLines.forEach((s, i) => {
  call.append("text").attr("class", "calibri").attr("x", 478).attr("y", callY[i])
    .attr("text-anchor", "middle").attr("font-size", 28).attr("fill", "#111")
    .attr("textLength", callW[i]).attr("lengthAdjust", "spacingAndGlyphs").text(s);
});

// ---------------------------------------------------------------------------
// Pasted PMIU panel over the summer 2017 period
// ---------------------------------------------------------------------------
const pL = x(T(pmiuCoarse[0][0]));
const pR = x(T(pmiuCoarse[pmiuCoarse.length - 1][0]));
svg.append("path")
  .attr("d", `M775,118H1124V988H775Z M${pL},118V930H${pR}V118Z`)
  .attr("fill", "#fff").attr("fill-opacity", 0.35).attr("fill-rule", "evenodd");

const paste = svg.append("g");
paste.selectAll("line.pv").data(pasteDateTicks).join("line")
  .attr("x1", d => x(T(d))).attr("x2", d => x(T(d)))
  .attr("y1", y(0.0068)).attr("y2", P.b + 26)
  .attr("stroke", "#aaaaaa").attr("stroke-width", 1.5);

paste.append("g").attr("clip-path", "url(#mainClip)")
  .append("path").datum(bandRows(pmiuCoarse))
  .attr("d", bandArea(x, y))
  .attr("fill", "#ff0000").attr("fill-opacity", 0.35);

paste.append("line").attr("x1", pL).attr("x2", x(T("2017-10-21"))).attr("y1", y(0.01)).attr("y2", y(0.01))
  .attr("stroke", "#888").attr("stroke-width", 1.5);
paste.append("line").attr("x1", pL).attr("x2", pR).attr("y1", y(0.001)).attr("y2", y(0.001))
  .attr("stroke", "#999").attr("stroke-width", 1.5);
paste.selectAll("line.pmaj").data(yTickValues).join("line")
  .attr("x1", pL - 10).attr("x2", pL).attr("y1", d => y(d)).attr("y2", d => y(d))
  .attr("stroke", "#555").attr("stroke-width", 1.5);
paste.selectAll("line.pmin").data(minorTicks([7e-4, 0.62])).join("line")
  .attr("x1", pL - 6).attr("x2", pL).attr("y1", d => y(d)).attr("y2", d => y(d))
  .attr("stroke", "#666").attr("stroke-width", 1.3);
paste.selectAll("text.pl").data(yTickValues).join("text")
  .attr("class", "mpl").attr("x", pL - 19).attr("y", d => y(d) + 8)
  .attr("text-anchor", "end").attr("font-size", 21).attr("fill", "#9a9a9a")
  .style("mix-blend-mode", "multiply")
  .text((d, i) => pasteTickLabels[i]);
paste.append("text").attr("class", "mpl").attr("transform", "translate(804,521) rotate(-90)")
  .attr("text-anchor", "middle").attr("font-size", 19).attr("font-weight", "bold").attr("fill", "#555")
  .style("mix-blend-mode", "multiply").text("Sv/h");
paste.selectAll("text.pd").data(pasteDateTicks).join("text")
  .attr("class", "cond").attr("x", d => x(T(d))).attr("y", 960)
  .attr("text-anchor", "middle").attr("font-size", 21).attr("fill", "#aaaaaa")
  .text((d, i) => pasteDateLabels[i]);

// ---------------------------------------------------------------------------
// Dashed zoom markers
// ---------------------------------------------------------------------------
const mL = pL + 1, mR = pR + 2;
const dash = svg.append("g").attr("stroke", "#000").attr("stroke-width", 2.5)
  .attr("stroke-dasharray", "10,6").attr("fill", "none");
dash.append("path").attr("d", `M940,482L${mL},672V949`);
dash.append("path").attr("d", `M${mR},724V949`);
dash.append("path").attr("d", `M${mR},812L1682,488`);
dash.append("path").attr("d", `M${mL + 14},812H${mR - 14}`);
svg.append("polygon").attr("points", `${mL},812 ${mL + 17},804 ${mL + 17},820`).attr("fill", "#000");
svg.append("polygon").attr("points", `${mR},812 ${mR - 17},804 ${mR - 17},820`).attr("fill", "#000");

// ---------------------------------------------------------------------------
// Inset: IR measured on PMIU.202
// ---------------------------------------------------------------------------
const inset = svg.append("g");
inset.append("rect").attr("x", 940).attr("y", 9).attr("width", 760).attr("height", 473)
  .attr("fill", "#fff").attr("stroke", "#000").attr("stroke-width", 3);

const ib = inset.append("g").attr("clip-path", "url(#insetClip)");
ib.append("path").datum(bandRows(pmiu))
  .attr("d", bandArea(xi, yi))
  .attr("fill", "#ff0000").attr("stroke", "#ff0000").attr("stroke-width", 0.6);
ib.append("path").datum(lineRows(pmiuLink))
  .attr("d", valueLine(xi, yi))
  .attr("fill", "none").attr("stroke", "#ff0000").attr("stroke-width", 1.2);

inset.selectAll("line.ig").data(yTickValues).join("line")
  .attr("x1", IP.l).attr("x2", IP.r).attr("y1", d => yi(d)).attr("y2", d => yi(d))
  .attr("stroke", "#444").attr("stroke-width", 1.5).attr("stroke-opacity", 0.85);
inset.selectAll("line.iv").data(insetDateTicks).join("line")
  .attr("x1", d => xi(T(d))).attr("x2", d => xi(T(d)))
  .attr("y1", IP.t).attr("y2", IP.b + 7)
  .attr("stroke", "#444").attr("stroke-width", 1.3).attr("stroke-opacity", 0.85);

inset.append("line").attr("x1", IP.l).attr("x2", IP.r).attr("y1", IP.t).attr("y2", IP.t)
  .attr("stroke", "#d0d0d0").attr("stroke-width", 1.5);
inset.append("line").attr("x1", IP.r).attr("x2", IP.r).attr("y1", IP.t).attr("y2", IP.b)
  .attr("stroke", "#d0d0d0").attr("stroke-width", 1.5);
inset.append("line").attr("x1", IP.l).attr("x2", IP.l).attr("y1", IP.t).attr("y2", IP.b)
  .attr("stroke", "#333").attr("stroke-width", 1.5);
inset.append("line").attr("x1", IP.l).attr("x2", IP.r).attr("y1", IP.b).attr("y2", IP.b)
  .attr("stroke", "#333").attr("stroke-width", 1.5);

inset.selectAll("line.imaj").data(yTickValues).join("line")
  .attr("x1", IP.l - 8).attr("x2", IP.l).attr("y1", d => yi(d)).attr("y2", d => yi(d))
  .attr("stroke", "#333").attr("stroke-width", 1.3);
inset.selectAll("line.imin").data(minorTicks(yi.domain())).join("line")
  .attr("x1", IP.l - 4).attr("x2", IP.l).attr("y1", d => yi(d)).attr("y2", d => yi(d))
  .attr("stroke", "#333").attr("stroke-width", 1);

inset.selectAll("text.il").data(yTickValues).join("text")
  .attr("class", "cond").attr("x", IP.l - 11).attr("y", d => yi(d) + 4)
  .attr("text-anchor", "end").attr("font-size", 12).attr("fill", "#222")
  .text((d, i) => pasteTickLabels[i]);
inset.selectAll("text.id").data(insetDateTicks).join("text")
  .attr("class", "cond").attr("x", d => xi(T(d))).attr("y", 475)
  .attr("text-anchor", "middle").attr("font-size", 13).attr("fill", "#222")
  .text((d, i) => insetDateLabels[i]);
inset.append("text").attr("class", "mpl").attr("transform", "translate(954,233) rotate(-90)")
  .attr("text-anchor", "middle").attr("font-size", 12).attr("font-weight", "bold").attr("fill", "#111")
  .text("Sv/h");

inset.append("rect").attr("x", 1027).attr("y", 346).attr("width", 488).attr("height", 66).attr("rx", 3)
  .attr("fill", "#fff").attr("stroke", "#ff0000").attr("stroke-width", 4.5);
inset.append("text").attr("class", "calibri").attr("x", 1270).attr("y", 390)
  .attr("text-anchor", "middle").attr("font-size", 31).attr("fill", "#111")
  .attr("textLength", 393).attr("lengthAdjust", "spacingAndGlyphs").text(insetTitle);
</script>
</body>
</html>
